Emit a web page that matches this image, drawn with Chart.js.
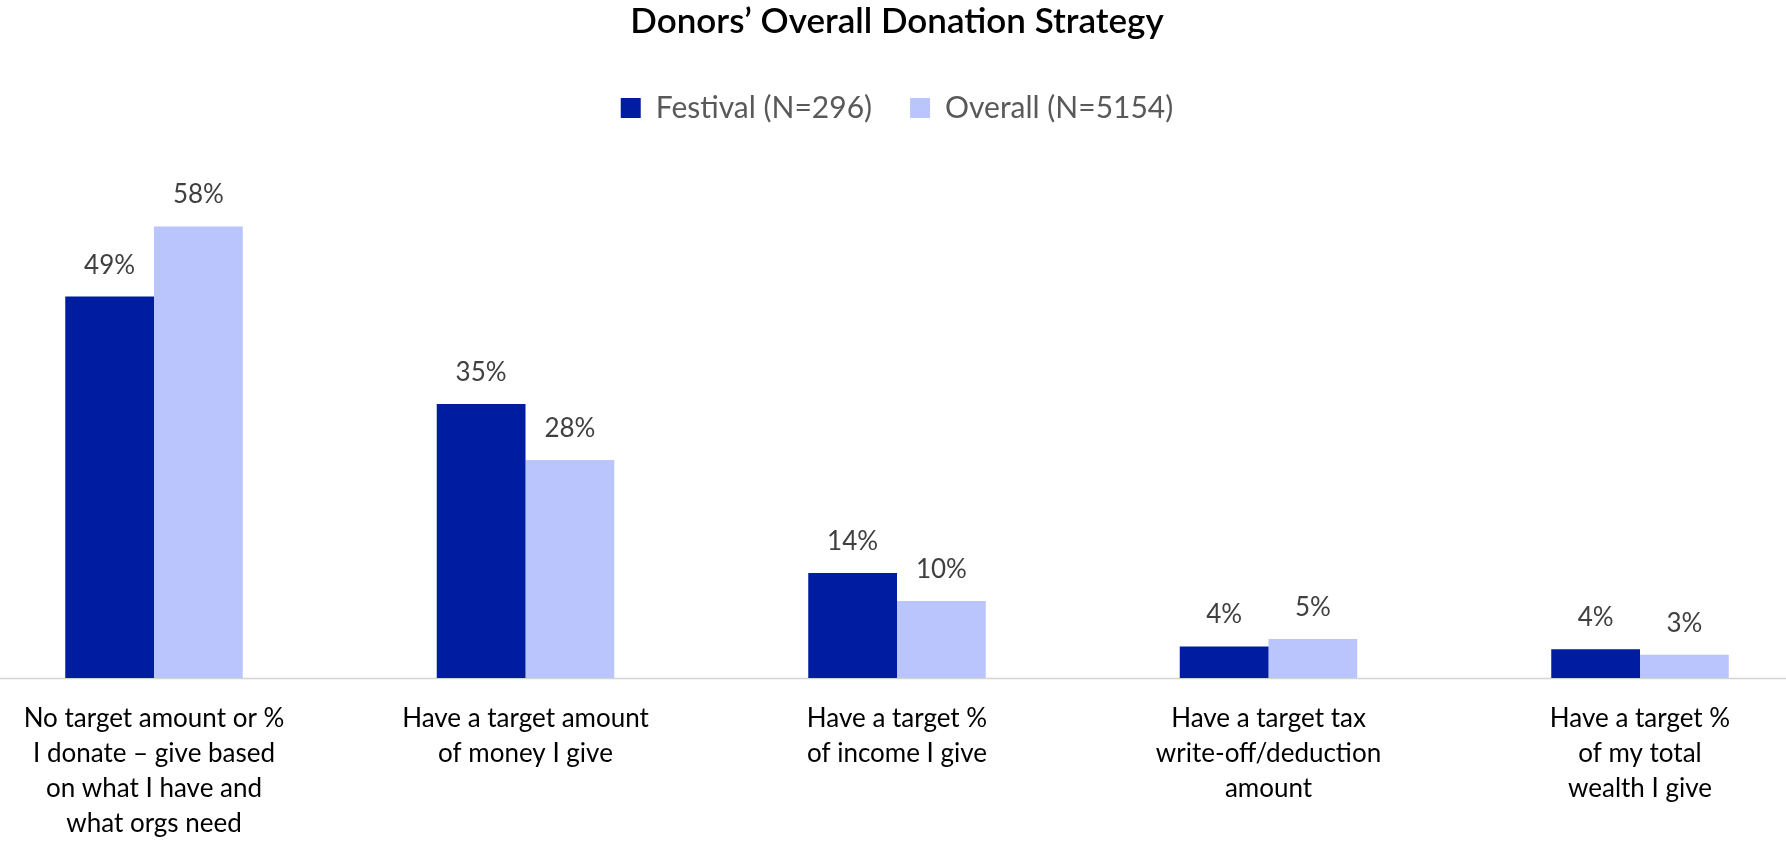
<!DOCTYPE html>
<html>
<head>
<meta charset="utf-8">
<script src="https://cdn.jsdelivr.net/npm/chart.js@4/dist/chart.umd.min.js"></script>
<style>
  html, body { margin: 0; padding: 0; background: #ffffff; }
  #c { display: block; }
</style>
</head>
<body>
<canvas id="c" width="1786" height="847"></canvas>
<script>
const categories = [
  ["No target amount or %", "I donate \u2013 give based", "on what I have and", "what orgs need"],
  ["Have a target amount", "of money I give"],
  ["Have a target %", "of income I give"],
  ["Have a target tax", "write-off/deduction", "amount"],
  ["Have a target %", "of my total", "wealth I give"]
];
const festivalValues = [49, 35.2, 13.5, 4.05, 3.7];
const overallValues = [58, 28, 9.9, 5, 3];
const seriesNames = ["Festival (N=296)", "Overall (N=5154)"];
const titleText = "Donors\u2019 Overall Donation Strategy";

const FONT = 'Lato, "Noto Sans", sans-serif';

const baselinePlugin = {
  id: 'baseline',
  beforeDatasetsDraw(chart) {
    const ctx = chart.ctx;
    const y = Math.round(chart.scales.y.getPixelForValue(0)) + 0.5;
    ctx.save();
    ctx.strokeStyle = '#d4d4d4';
    ctx.lineWidth = 1.5;
    ctx.beginPath();
    ctx.moveTo(0, y);
    ctx.lineTo(chart.width, y);
    ctx.stroke();
    ctx.restore();
  }
};

const valueLabelPlugin = {
  id: 'valueLabels',
  afterDatasetsDraw(chart) {
    const ctx = chart.ctx;
    ctx.save();
    ctx.font = '26px ' + FONT;
    ctx.fillStyle = '#404040';
    ctx.textAlign = 'center';
    ctx.textBaseline = 'alphabetic';
    chart.data.datasets.forEach((ds, di) => {
      const meta = chart.getDatasetMeta(di);
      meta.data.forEach((el, i) => {
        ctx.fillText(Math.round(ds.data[i]) + '%', el.x, el.y - 23);
      });
    });
    ctx.restore();
  }
};

new Chart(document.getElementById('c'), {
  type: 'bar',
  data: {
    labels: categories,
    datasets: [
      { label: seriesNames[0], data: festivalValues, backgroundColor: '#001ca0', borderWidth: 0, clip: false },
      { label: seriesNames[1], data: overallValues, backgroundColor: '#bac4fd', borderWidth: 0, clip: false }
    ]
  },
  options: {
    responsive: false,
    animation: false,
    devicePixelRatio: 1,
    layout: { padding: { left: 154, right: 146, top: 0, bottom: 0 } },
    datasets: { bar: { categoryPercentage: 0.4778, barPercentage: 1.0 } },
    plugins: {
      title: {
        display: true,
        text: titleText,
        color: '#000000',
        font: { family: FONT, size: 35, weight: '600' },
        padding: { top: 1, bottom: 12 }
      },
      legend: {
        display: true,
        position: 'top',
        labels: {
          boxWidth: 20,
          boxHeight: 20,
          padding: 38,
          color: '#595959',
          font: { family: FONT, size: 30, weight: 'normal' }
        }
      },
      tooltip: { enabled: false }
    },
    scales: {
      x: {
        offset: false,
        grid: { display: false, drawTicks: false },
        border: { display: false },
        afterFit(scale) { scale.height = 169; },
        ticks: {
          autoSkip: false,
          maxRotation: 0,
          minRotation: 0,
          padding: 23,
          color: '#000000',
          font: { family: FONT, size: 26, lineHeight: 1.346 }
        }
      },
      y: {
        display: false,
        min: 0,
        max: 70.0
      }
    }
  },
  plugins: [baselinePlugin, valueLabelPlugin]
});
</script>
</body>
</html>
